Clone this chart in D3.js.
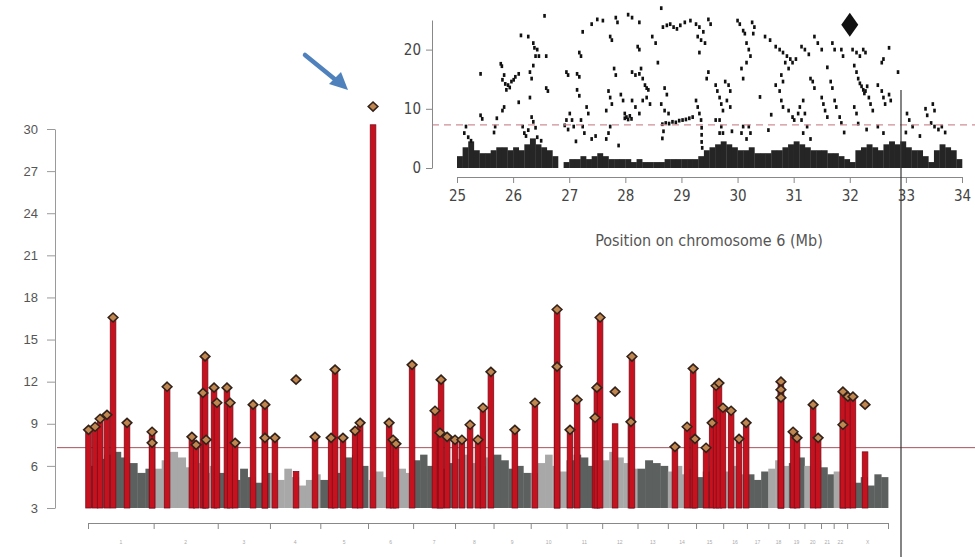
<!DOCTYPE html>
<html>
<head>
<meta charset="utf-8">
<script src="https://cdn.jsdelivr.net/npm/d3@7"></script>
<style>
body{margin:0;background:#fff;}
svg{display:block;}
</style>
</head>
<body>
<script>
// genome-wide manhattan data
var chromNames = ["1","2","3","4","5","6","7","8","9","10","11","12","13","14","15","16","17","18","19","20","21","22","X"];
var chromLengths = [249,243,198,191,181,171,159,146,141,136,135,134,115,107,103,90,81,78,59,63,48,51,155];
// top of the dense cloud of non-significant snps, a few bins per chromosome
var backgroundTops = [
  [6.0,6.5,6.8,7.0,6.6,6.2,5.5,5.8],
  [5.8,6.4,7.0,6.6,5.9,6.2,5.5,6.0],
  [5.5,6.0,5.0,5.8,5.2,4.8,5.5],
  [5.5,5.0,5.8,5.2,4.6,5.0,5.4],
  [5.0,4.6,5.5,6.6,6.8,6.0],
  [5.0,5.6,5.2,6.0,5.8,5.5],
  [6.4,6.8,6.0,6.5,5.8,6.2],
  [6.5,6.8,6.2,6.0,6.6],
  [6.8,6.4,5.8,6.0,5.5],
  [5.5,6.2,6.8,6.0,5.6],
  [6.4,6.8,6.6,6.0,5.6],
  [6.4,7.0,6.6,6.2,5.8],
  [5.8,6.4,6.2,6.0],
  [5.6,6.0,5.4,5.8],
  [5.2,5.6,6.0,5.4],
  [5.6,6.0,5.4],
  [5.4,5.0,5.6],
  [5.8,6.4,6.0],
  [6.2,6.6],
  [6.0,6.4],
  [5.9,5.4],
  [5.6,6.0],
  [5.0,4.8,5.2,4.6,5.4,5.2]
];
// associated loci: [genome position Mb, -log10 p, stem top if shorter]
var hits = [
  [2,8.57],[27,8.79],[46,9.36],[72,9.64],[95,16.57],[148,9.07],[243,8.43],[243,7.64],
  [300,11.64],[394,8.07],[410,7.5],[436,11.2],[444,13.8],[448,7.86],[478,11.57],[489,10.5],
  [527,11.57],[539,10.5],[558,7.64],[626,10.36],[671,10.36],[671,8.0],[709,8.0],
  [789,12.14,5.6],[861,8.07],[922,8.0],[937,12.86],[967,8.0],[1013,8.5],[1032,9.07],
  [1081,31.6,30.3],[1142,9.07],[1157,7.86],[1168,7.57],[1229,13.2],[1316,9.93],[1335,8.36],
  [1339,12.14],[1362,8.07],[1392,7.86],[1418,7.86],[1449,8.93],[1479,7.86],[1498,10.14],
  [1528,12.7],[1619,8.57],[1695,10.5],[1779,17.14],[1779,13.07],[1828,8.57],[1855,10.71],
  [1923,9.43],[1930,11.57],[1942,16.57],[1999,11.29,9.0],[2059,9.14],[2063,13.79],
  [2226,7.36],[2272,8.79],[2295,12.93],[2302,7.93],[2344,7.29],[2367,9.07],[2382,11.71],
  [2393,11.9],[2408,10.14],[2439,9.93],[2469,7.93],[2496,9.07],[2628,12.0],[2628,11.43],
  [2628,10.86],[2674,8.43],[2689,8.0],[2750,10.36],[2769,8.0],[2863,11.29],[2863,8.93],
  [2882,10.93],[2901,10.93],[2947,10.36,7.0]
];
var yTicks = [3,6,9,12,15,18,21,24,27,30];
var genomeThreshold = 7.3;

// chromosome 6 MHC inset
var insetTicksX = [25,26,27,28,29,30,31,32,33,34];
var insetTicksY = [0,10,20];
var bandStart = 25.0, bandStep = 0.1;
var insetBand = [
  2.0,3.5,4.5,3.0,2.5,2.5,3.0,3.5,3.5,3.0,
  3.5,3.0,4.0,5.0,4.0,3.5,3.0,2.0,0,1.0,
  1.5,1.5,2.0,1.5,2.0,2.5,2.0,1.5,1.5,1.5,
  1.5,1.0,1.5,1.0,1.0,1.0,1.0,1.5,1.5,1.5,
  1.5,1.5,1.5,2.0,3.0,3.5,4.0,4.5,4.0,3.5,
  3.0,3.0,3.5,2.5,2.5,2.5,3.0,3.0,3.5,4.0,
  4.5,4.0,3.5,3.0,3.0,3.0,2.5,2.5,2.0,1.5,
  1.0,3.0,3.5,4.0,3.5,3.0,4.0,4.5,4.0,4.5,
  3.5,3.0,3.0,2.0,1.0,3.0,4.0,3.5,3.0,1.5
];
var insetPoints = [
  [25.16,7.0],[25.13,5.9],[25.2,5.2],[25.25,4.6],[25.42,15.9],[25.42,8.9],[25.45,8.3],[25.68,7.0],[25.71,8.4],[25.66,6.0],
  [25.78,17.6],[25.8,17.2],[25.81,14.9],[25.84,15.7],[25.86,14.2],[25.88,13.2],[25.91,14.0],[25.94,13.6],[25.97,14.6],[26.01,14.9],
  [26.04,15.4],[25.84,10.3],[25.81,9.7],[26.10,15.9],[26.10,11.1],[26.17,7.0],[26.2,5.9],[26.23,5.4],[26.27,6.4],[26.14,22.4],
  [26.27,22.2],[26.36,21.1],[26.38,20.3],[26.4,18.9],[26.36,17.3],[26.43,20.0],[26.46,18.9],[26.3,16.2],[26.33,15.1],[26.3,11.9],
  [26.33,8.6],[26.36,7.8],[26.4,6.8],[26.59,18.9],[26.59,13.5],[26.62,13.0],[26.56,25.7],[26.43,5.2],[26.5,4.6],
  [26.95,16.2],[26.98,15.7],[27.14,15.9],[27.18,15.4],[27.01,9.2],[27.05,8.1],[27.08,7.0],[26.95,8.1],[26.98,6.5],[26.92,7.2],
  [27.21,8.1],[27.24,7.0],[27.27,5.9],[27.14,13.2],[27.18,12.2],[27.24,23.0],[27.21,18.9],[27.18,19.5],[27.31,10.3],[27.34,9.2],
  [27.4,24.3],[27.5,25.1],[27.6,24.9],[27.47,5.4],[27.4,4.9],[27.12,4.5],[27.66,4.9],[27.7,5.9],[27.73,7.0],[27.73,22.2],
  [27.76,21.6],[27.8,16.8],[27.83,15.7],[27.7,13.0],[27.73,11.9],[27.76,10.8],[27.66,9.7],[27.83,25.4],[27.86,24.6],[27.92,12.4],
  [27.96,11.4],[27.99,9.2],[27.99,8.4],[28.02,8.6],[28.05,8.2],[28.08,8.8],[28.11,8.3],[27.88,3.8],
  [28.05,25.9],[28.12,25.4],[28.25,24.6],[28.12,16.2],[28.18,15.7],[28.25,15.9],[28.28,16.8],[28.22,20.5],[28.25,20.0],[28.31,15.1],
  [28.35,14.0],[28.38,13.5],[28.41,13.2],[28.12,11.4],[28.18,10.3],[28.25,9.2],[28.31,11.4],[28.38,11.9],[28.44,10.8],[28.48,22.2],
  [28.54,21.1],[28.58,17.8],[28.64,27.0],[28.64,10.8],[28.7,9.7],[28.77,9.2],[28.7,13.5],[28.74,12.4],[28.67,23.8],[28.74,24.1],
  [28.8,24.3],[28.86,23.8],[28.92,23.5],[28.98,24.1],
  [28.66,7.4],[28.72,7.6],[28.78,7.5],[28.84,7.8],[28.9,7.7],[28.96,8.0],[29.02,8.1],[29.08,8.2],[29.14,8.4],[29.2,8.6],
  [28.68,6.2],[28.66,5.0],
  [29.06,24.6],[29.16,24.9],[29.26,24.3],[29.32,23.8],[29.39,23.0],[29.29,22.2],[29.35,21.6],[29.42,21.1],[29.26,11.4],[29.29,10.3],
  [29.32,9.2],[29.35,8.1],[29.32,19.5],[29.36,6.8],[29.36,5.6],[29.36,4.4],[29.37,3.4],[29.48,25.1],[29.52,24.3],[29.45,15.1],
  [29.48,16.2],[29.61,14.0],[29.64,13.0],[29.68,11.9],[29.71,10.8],[29.74,9.7],[29.68,8.1],[29.71,7.0],[29.74,5.9],[29.78,14.6],
  [29.84,14.0],[29.87,13.0],[29.81,11.4],[29.87,10.3],[29.61,8.1],[29.68,5.9],[29.9,6.2],[30.0,24.9],[30.04,24.3],
  [30.1,23.2],[30.13,22.7],[30.16,21.1],[30.2,20.0],[30.23,18.9],[30.16,17.8],[30.07,16.8],[30.1,15.1],[30.26,24.6],[30.3,23.8],
  [30.28,22.7],[30.2,7.0],[30.23,5.9],[30.16,4.9],[30.1,7.0],[30.07,5.9],[30.49,22.2],[30.58,21.6],[30.68,20.5],[30.75,20.0],
  [30.81,19.5],[30.88,18.9],[30.94,18.4],[30.85,17.8],[30.91,16.8],[30.98,17.8],[31.04,18.4],[30.68,14.0],[30.75,13.0],[30.78,11.4],
  [30.81,10.3],[30.91,9.7],[30.98,8.6],[31.01,8.1],[31.08,9.2],[31.14,8.1],[30.78,15.7],[30.81,14.6],[30.4,12.0],[30.6,9.0],[30.55,6.4],
  [31.14,20.5],[31.2,20.0],[31.27,19.2],[31.37,22.2],[31.43,21.1],[31.5,20.0],[31.3,15.1],[31.34,14.6],[31.37,13.5],[31.5,11.9],
  [31.53,10.8],[31.56,9.7],[31.6,8.6],[31.11,10.3],[31.17,11.4],[31.2,9.2],[31.24,7.0],[31.17,5.9],[31.3,4.9],[31.69,21.1],
  [31.73,20.0],[31.66,14.6],[31.69,13.5],[31.73,11.4],[31.76,10.3],[31.85,20.0],[31.88,18.9],[31.82,8.6],[31.85,7.6],[31.9,6.0],[31.6,17.0],
  [32.05,20.0],[32.12,19.5],[32.18,18.9],[32.24,20.0],[32.28,19.5],[32.08,17.3],[32.12,16.2],[32.15,15.1],[32.18,14.3],[32.21,13.8],
  [32.24,13.2],[32.28,13.0],[32.31,13.8],[32.26,12.6],[32.34,11.9],[32.37,10.8],[32.41,9.7],[32.08,10.3],[32.12,9.2],[32.15,7.5],
  [32.57,17.8],[32.6,18.4],[32.5,14.0],[32.57,13.0],[32.6,11.9],[32.63,10.8],[32.7,20.3],[32.86,16.2],[32.7,12.4],[32.73,11.4],
  [32.5,7.0],[32.6,5.9],[32.3,6.5],
  [33.02,9.2],[33.06,8.1],[33.12,7.0],[33.35,10.0],[33.38,8.9],[33.48,10.8],[33.51,9.7],[33.45,7.6],[33.51,7.0],[33.58,6.5],
  [33.64,7.0],[33.25,5.4],[33.7,6.0],[33.0,6.0]
];
var leadSnp = [32.0, 24.2];
var insetThreshold = 7.3;

var width = 975, height = 557;
var svg = d3.select("body").append("svg")
  .attr("width", width).attr("height", height);

// cumulative chromosome starts
var chromStarts = [];
var total = 0;
chromLengths.forEach(function(l){ chromStarts.push(total); total += l; });

var x = d3.scaleLinear().domain([0, total]).range([88, 888]);
var y = d3.scaleLinear().domain([3, 30]).range([508, 129]);

// background cloud
var bg = svg.append("g");
chromLengths.forEach(function(len, i){
  var tops = backgroundTops[i];
  var bw = len / tops.length;
  bg.selectAll(null).data(tops).enter().append("rect")
    .attr("x", function(d, j){ return x(chromStarts[i] + j*bw); })
    .attr("width", function(d, j){ return x(chromStarts[i] + (j+1)*bw) - x(chromStarts[i] + j*bw) + 0.4; })
    .attr("y", function(d){ return y(d); })
    .attr("height", function(d){ return y(3) - y(d); })
    .attr("fill", i % 2 == 0 ? "#5c605f" : "#a8a8a8");
});

// significance line
svg.append("line")
  .attr("x1", 57).attr("x2", width)
  .attr("y1", y(genomeThreshold)).attr("y2", y(genomeThreshold))
  .attr("stroke", "#a8525a").attr("stroke-width", 1);

// red stems
var stems = svg.append("g");
stems.selectAll("rect").data(hits).enter().append("rect")
  .attr("x", function(d){ return x(d[0]) - 2.8; })
  .attr("width", 5.6)
  .attr("y", function(d){ return y(d.length > 2 ? d[2] : d[1]); })
  .attr("height", function(d){ return y(3) - y(d.length > 2 ? d[2] : d[1]); })
  .attr("fill", "#c5121e")
  .attr("stroke", "#7c0e1c").attr("stroke-width", 0.8);

// diamonds at lead snps
svg.append("g").selectAll("path").data(hits).enter().append("path")
  .attr("d", "M0,-4.5L4.8,0L0,4.5L-4.8,0Z")
  .attr("transform", function(d){ return "translate(" + x(d[0]) + "," + y(d[1]) + ")"; })
  .attr("fill", "#c08650")
  .attr("stroke", "#33221a").attr("stroke-width", 1.6);

// y axis
var yAxis = svg.append("g")
  .attr("transform", "translate(55,0)")
  .call(d3.axisLeft(y).tickValues(yTicks).tickSize(8).tickSizeOuter(0).tickPadding(9));
yAxis.select(".domain").attr("stroke", "#9a9a9a");
yAxis.selectAll(".tick line").attr("stroke", "#9a9a9a");
yAxis.selectAll(".tick text")
  .attr("fill", "#555").style("font-size", "13px").style("font-family", "'Liberation Sans', Arial, sans-serif");

// chromosome axis
var xAxis = svg.append("g")
  .attr("transform", "translate(0,523)")
  .call(d3.axisBottom(x).tickValues(chromStarts.concat([total])).tickSize(6).tickSizeOuter(0).tickFormat(""));
xAxis.select(".domain").attr("stroke", "#888");
xAxis.selectAll(".tick line").attr("stroke", "#888");
svg.append("g").selectAll("text").data(chromNames).enter().append("text")
  .attr("x", function(d, i){ return x(chromStarts[i] + chromLengths[i]/2); })
  .attr("y", 544)
  .attr("text-anchor", "middle")
  .attr("fill", "#aaa")
  .style("font-size", "5px")
  .style("font-family", "'Liberation Sans', Arial, sans-serif")
  .text(function(d){ return d; });

// ---- inset ----
var ix = d3.scaleLinear().domain([25, 34]).range([457, 962]);
var iy = d3.scaleLinear().domain([0, 25]).range([168, 20]);
var narrow = "'Liberation Sans Narrow', 'DejaVu Sans Condensed', sans-serif";

var inset = svg.append("g");
inset.selectAll("rect.band").data(insetBand).enter().append("rect")
  .attr("class", "band")
  .attr("x", function(d, i){ return ix(bandStart + i*bandStep); })
  .attr("width", ix(bandStep) - ix(0) + 0.3)
  .attr("y", function(d){ return iy(d); })
  .attr("height", function(d){ return iy(0) - iy(d); })
  .attr("fill", "#252525");

inset.selectAll("rect.pt").data(insetPoints).enter().append("rect")
  .attr("class", "pt")
  .attr("x", function(d){ return ix(d[0]) - 1.3; })
  .attr("y", function(d){ return iy(d[1]) - 1.9; })
  .attr("width", 2.6).attr("height", 3.8)
  .attr("fill", "#111");

inset.append("line")
  .attr("x1", 432).attr("x2", width)
  .attr("y1", iy(insetThreshold)).attr("y2", iy(insetThreshold))
  .attr("stroke", "#d08e96").attr("stroke-width", 1.3)
  .attr("stroke-dasharray", "7,5");

inset.append("path")
  .attr("d", "M0,-12L8.5,0L0,12L-8.5,0Z")
  .attr("transform", "translate(" + ix(leadSnp[0]) + "," + iy(leadSnp[1]) + ")")
  .attr("fill", "#111");

var iyAxis = inset.append("g")
  .attr("transform", "translate(432,0)")
  .call(d3.axisLeft(iy).tickValues(insetTicksY).tickSize(6).tickSizeOuter(0).tickPadding(5));
var ixAxis = inset.append("g")
  .attr("transform", "translate(0,177)")
  .call(d3.axisBottom(ix).tickValues(insetTicksX).tickSize(6).tickSizeOuter(0).tickPadding(7));
[iyAxis, ixAxis].forEach(function(a){
  a.select(".domain").attr("stroke", "#888");
  a.selectAll(".tick line").attr("stroke", "#888");
  a.selectAll(".tick text").attr("fill", "#444")
    .style("font-size", "15px").style("font-family", narrow);
});

inset.append("text")
  .attr("x", 709).attr("y", 246)
  .attr("text-anchor", "middle")
  .attr("fill", "#555")
  .style("font-size", "16px").style("font-family", narrow)
  .text("Position on chromosome 6 (Mb)");

// slide border line
svg.append("line")
  .attr("x1", 901).attr("x2", 901).attr("y1", 90).attr("y2", height)
  .attr("stroke", "#333").attr("stroke-width", 1.2);

// arrow pointing at the MHC peak
svg.append("line")
  .attr("x1", 305).attr("y1", 55).attr("x2", 337).attr("y2", 81)
  .attr("stroke", "#4f81bd").attr("stroke-width", 4.5).attr("stroke-linecap", "round");
svg.append("path")
  .attr("d", "M348,90L329,84L341,72Z")
  .attr("fill", "#4f81bd");
</script>
</body>
</html>
